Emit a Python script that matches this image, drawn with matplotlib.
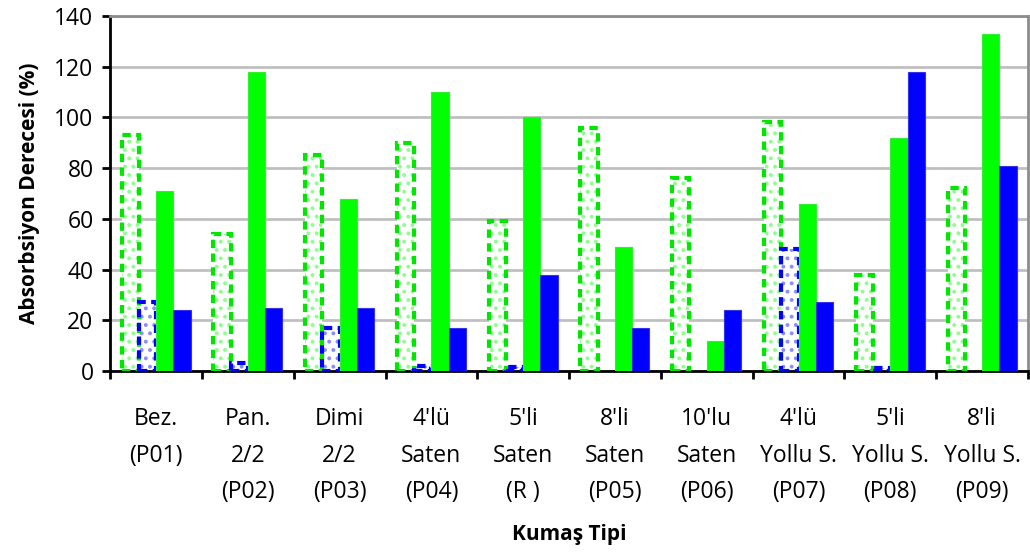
import numpy as np
import matplotlib.pyplot as plt
from matplotlib.ticker import FixedLocator

plt.rcParams['font.family'] = ['Open Sans', 'DejaVu Sans']
plt.rcParams['hatch.linewidth'] = 1.6

categories = ["Bez.\n(P01)", "Pan.\n2/2\n(P02)", "Dimi\n2/2\n(P03)", "4'lü\nSaten\n(P04)",
              "5'li\nSaten\n(R )", "8'li\nSaten\n(P05)", "10'lu\nSaten\n(P06)",
              "4'lü\nYollu S.\n(P07)", "5'li\nYollu S.\n(P08)", "8'li\nYollu S.\n(P09)"]
hatched_green = [93, 54, 85, 90, 59, 96, 76, 98, 38, 72]
hatched_blue = [27, 3, 17, 2, 1.5, 0, 0, 48, 1, 0]
solid_green = [71, 118, 68, 110, 100, 49, 12, 66, 92, 133]
solid_blue = [24, 25, 25, 17, 38, 17, 24, 27, 118, 81]

fig = plt.figure(figsize=(10.3, 5.52), dpi=100)
ax = fig.add_axes([0.107, 0.328, 0.891, 0.643])

x = np.arange(len(categories))
w = 0.188
offs = np.array([-1.5, -0.5, 0.5, 1.5]) * w

def hatched(vals, off, light, strong):
    vals = np.asarray(vals, dtype=float)
    keep = vals > 0   # zero bars draw nothing in the original
    ax.bar(x[keep] + off, vals[keep], w, color='white', edgecolor=light, hatch='..',
           linewidth=0, zorder=2)
    ax.bar(x[keep] + off, vals[keep], w, fill=False, edgecolor=strong,
           linestyle=(0, (2, 1.3)), linewidth=3, zorder=3)

hatched(hatched_green, offs[0], '#8cff8c', '#00e600')
hatched(hatched_blue, offs[1], '#8c8cff', '#0000ff')
ax.bar(x + offs[2], solid_green, w, color='#00ff00', edgecolor='#33ee33', linewidth=0.8, zorder=3)
ax.bar(x + offs[3], solid_blue, w, color='#0000ff', edgecolor='#3333ee', linewidth=0.8, zorder=3)

ax.set_xlim(-0.5, len(categories) - 0.5)
ax.set_ylim(0, 140)
ax.set_yticks(np.arange(0, 141, 20))
ax.yaxis.grid(True, color='#c0c0c0', linewidth=2)
ax.set_axisbelow(True)

ax.xaxis.set_major_locator(FixedLocator(np.arange(-0.5, len(categories), 1)))
ax.set_xticklabels([])
ax.xaxis.set_minor_locator(FixedLocator(x))
ax.set_xticklabels(categories, minor=True, fontsize=16.5, linespacing=1.7, va='top')
ax.tick_params(axis='x', which='major', length=6, width=2, color='black')
ax.tick_params(axis='x', which='minor', length=0, pad=26)
ax.tick_params(axis='y', length=6, width=2, labelsize=16.5, pad=6)

for s in ['left', 'bottom']:
    ax.spines[s].set_color('black')
    ax.spines[s].set_linewidth(2)
for s in ['top', 'right']:
    ax.spines[s].set_color('#8c8c8c')
    ax.spines[s].set_linewidth(2)

ax.set_ylabel('Absorbsiyon Derecesi (%)', fontsize=15, fontweight='bold', labelpad=10)
ax.set_xlabel('Kumaş Tipi', fontsize=15, fontweight='bold', labelpad=14)

fig.savefig('out.png', dpi=100)
